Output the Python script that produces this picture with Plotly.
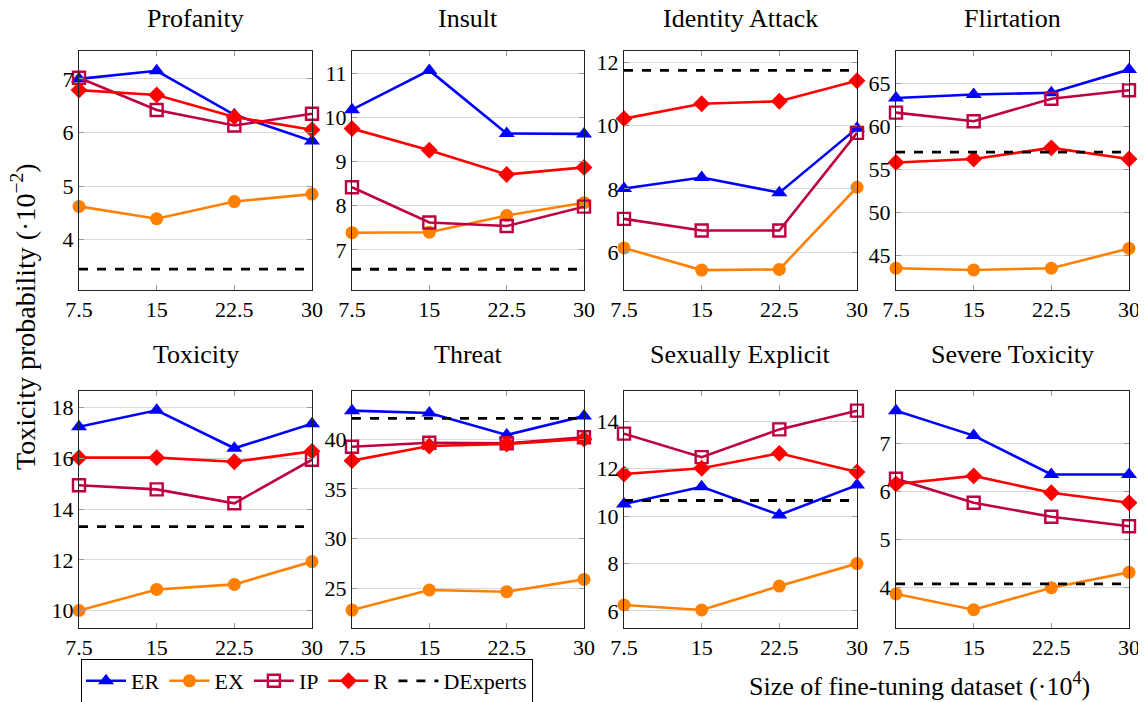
import plotly.graph_objects as go

# page pixel geometry (body has an 8px default margin, compensate)
OFF = 8
W, H = 1146 - OFF, 702 - OFF

x_vals = [7.5, 15, 22.5, 30]
x_labels = ["7.5", "15", "22.5", "30"]

panels = ["Profanity", "Insult", "Identity Attack", "Flirtation",
          "Toxicity", "Threat", "Sexually Explicit", "Severe Toxicity"]

er = {
    "Profanity": [7.00, 7.15, 6.33, 5.84],
    "Insult": [10.18, 11.07, 9.64, 9.63],
    "Identity Attack": [8.01, 8.36, 7.88, 9.92],
    "Flirtation": [63.3, 63.7, 63.9, 66.6],
    "Toxicity": [17.25, 17.9, 16.4, 17.37],
    "Threat": [42.84, 42.6, 40.4, 42.3],
    "Sexually Explicit": [10.51, 11.24, 10.05, 11.31],
    "Severe Toxicity": [7.68, 7.16, 6.35, 6.35],
}
ex = {
    "Profanity": [4.62, 4.39, 4.71, 4.85],
    "Insult": [7.39, 7.40, 7.78, 8.07],
    "Identity Attack": [6.13, 5.43, 5.45, 8.05],
    "Flirtation": [43.5, 43.3, 43.5, 45.8],
    "Toxicity": [10.0, 10.83, 11.03, 11.93],
    "Threat": [22.86, 24.87, 24.7, 25.93],
    "Sexually Explicit": [6.25, 6.04, 7.05, 8.0],
    "Severe Toxicity": [3.86, 3.53, 3.99, 4.31],
}
ip = {
    "Profanity": [7.02, 6.42, 6.13, 6.35],
    "Insult": [8.42, 7.62, 7.54, 7.98],
    "Identity Attack": [7.05, 6.68, 6.68, 9.77],
    "Flirtation": [61.6, 60.6, 63.2, 64.2],
    "Toxicity": [14.94, 14.78, 14.23, 15.95],
    "Threat": [39.23, 39.63, 39.57, 40.17],
    "Sexually Explicit": [13.48, 12.49, 13.66, 14.45],
    "Severe Toxicity": [6.26, 5.76, 5.47, 5.27],
}
r = {
    "Profanity": [6.79, 6.70, 6.29, 6.05],
    "Insult": [9.75, 9.26, 8.71, 8.87],
    "Identity Attack": [10.22, 10.69, 10.77, 11.42],
    "Flirtation": [55.8, 56.2, 57.5, 56.2],
    "Toxicity": [16.03, 16.03, 15.87, 16.28],
    "Threat": [37.83, 39.3, 39.5, 40.0],
    "Sexually Explicit": [11.78, 12.02, 12.65, 11.86],
    "Severe Toxicity": [6.15, 6.32, 5.97, 5.76],
}
dexperts = {
    "Profanity": 3.45,
    "Insult": 6.56,
    "Identity Attack": 11.75,
    "Flirtation": 57.0,
    "Toxicity": 13.31,
    "Threat": 42.07,
    "Sexually Explicit": 10.66,
    "Severe Toxicity": 4.07,
}
y_ranges = {
    "Profanity": [3.06, 7.52],
    "Insult": [6.09, 11.51],
    "Identity Attack": [4.8, 12.36],
    "Flirtation": [40.97, 68.76],
    "Toxicity": [9.31, 18.66],
    "Threat": [21.06, 44.81],
    "Sexually Explicit": [5.28, 15.28],
    "Severe Toxicity": [3.15, 8.09],
}
y_ticks = {
    "Profanity": [4, 5, 6, 7],
    "Insult": [7, 8, 9, 10, 11],
    "Identity Attack": [6, 8, 10, 12],
    "Flirtation": [45, 50, 55, 60, 65],
    "Toxicity": [10, 12, 14, 16, 18],
    "Threat": [25, 30, 35, 40],
    "Sexually Explicit": [6, 8, 10, 12, 14],
    "Severe Toxicity": [4, 5, 6, 7],
}

series = [
    ("ER", er, "#0000FF", dict(symbol="triangle-up", size=14)),
    ("EX", ex, "#FF8000", dict(symbol="circle", size=13)),
    ("IP", ip, "#BF0040", dict(symbol="square-open", size=12, line=dict(width=2.4))),
    ("R", r, "#FF0000", dict(symbol="diamond", size=13)),
]

FONT = "Liberation Serif, Times New Roman, serif"
col_px = [(79, 312), (352, 584), (624, 857), (896, 1129)]
row_px = [(51, 290), (391, 628)]


def px(xp):
    return (xp - OFF) / W


def py(yp):
    return 1 - (yp - OFF) / H


fig = go.Figure()
annotations = []

for i, name in enumerate(panels):
    row, col = divmod(i, 4)
    n = i + 1
    xa = "x" if n == 1 else f"x{n}"
    ya = "y" if n == 1 else f"y{n}"
    for sname, data, color, mk in series:
        m = dict(mk)
        m["color"] = color
        if "line" not in m:
            m["line"] = dict(width=0, color=color)
        else:
            m["line"] = dict(width=m["line"]["width"], color=color)
        fig.add_trace(go.Scatter(
            x=x_vals, y=data[name], mode="lines+markers", name=sname,
            line=dict(color=color, width=2.6), marker=m,
            xaxis=xa, yaxis=ya, cliponaxis=False,
            showlegend=(i == 0), legendgroup=sname,
        ))
    fig.add_trace(go.Scatter(
        x=[x_vals[0], x_vals[-1]], y=[dexperts[name]] * 2, mode="lines",
        name="DExperts", line=dict(color="black", width=2.8, dash="dash"),
        xaxis=xa, yaxis=ya, showlegend=(i == 0), legendgroup="DExperts",
    ))
    x0, x1 = col_px[col]
    y0, y1 = row_px[row]
    common = dict(showline=True, linecolor="#222222", linewidth=1, mirror="ticks",
                  ticks="inside", ticklen=5, tickcolor="#999999", tickwidth=1,
                  automargin=False,
                  tickfont=dict(family=FONT, size=22, color="black"), zeroline=False)
    fig.update_layout(**{
        ("xaxis" if n == 1 else f"xaxis{n}"): dict(
            domain=[px(x0), px(x1)], anchor=ya, range=[7.5, 30],
            tickvals=x_vals, ticktext=x_labels, showgrid=False, **common),
        ("yaxis" if n == 1 else f"yaxis{n}"): dict(
            domain=[py(y1), py(y0)], anchor=xa, range=y_ranges[name],
            tickvals=y_ticks[name], showgrid=True, gridcolor="#D9D9D9",
            gridwidth=1, **common),
    })
    annotations.append(dict(
        text=name, x=px((x0 + x1) / 2), y=py(18 if row == 0 else 354),
        xref="paper", yref="paper", showarrow=False, xanchor="center",
        yanchor="middle", font=dict(family=FONT, size=26, color="black")))

annotations.append(dict(
    text="Toxicity probability (·10<sup>−2</sup>)", x=px(24), y=py(317),
    xref="paper", yref="paper", showarrow=False, textangle=-90,
    xanchor="center", yanchor="middle", font=dict(family=FONT, size=28, color="black")))
annotations.append(dict(
    text="Size of fine-tuning dataset (·10<sup>4</sup>)", x=px(919), y=py(684),
    xref="paper", yref="paper", showarrow=False,
    xanchor="center", yanchor="middle", font=dict(family=FONT, size=26, color="black")))

fig.update_layout(
    template="none",
    width=W, height=H, margin=dict(l=0, r=0, t=0, b=0, autoexpand=False),
    paper_bgcolor="white", plot_bgcolor="white",
    annotations=annotations,
    legend=dict(orientation="h", x=px(81), y=py(659), xanchor="left", yanchor="top",
                bordercolor="black", borderwidth=1, bgcolor="white",
                font=dict(family=FONT, size=22, color="black"),
                itemwidth=40, tracegroupgap=0),
)

fig.write_html("out.html")
